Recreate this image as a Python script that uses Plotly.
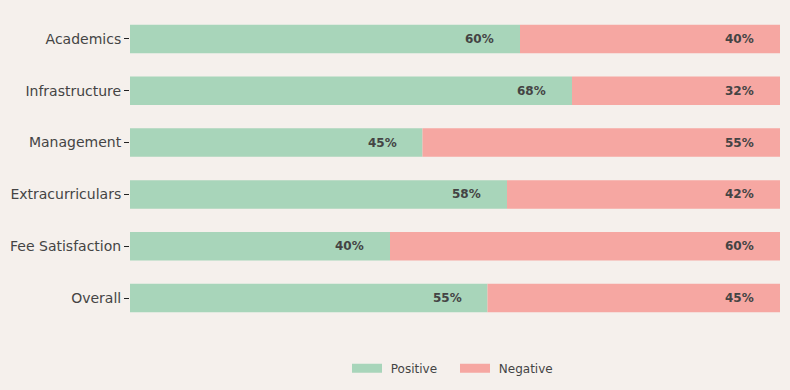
import plotly.graph_objects as go

categories = ["Academics", "Infrastructure", "Management", "Extracurriculars", "Fee Satisfaction", "Overall"]
positive = [60, 68, 45, 58, 40, 55]
negative = [40, 32, 55, 42, 60, 45]

GREEN = "#a8d5ba"
RED = "#f6a7a2"
BG = "#f5f0ec"
TXT = "#444444"

fig = go.Figure()
fig.add_trace(go.Bar(y=categories, x=positive, name="Positive", orientation="h", showlegend=False,
                     marker=dict(color=GREEN, line=dict(width=0)), width=0.55))
fig.add_trace(go.Bar(y=categories, x=negative, name="Negative", orientation="h", showlegend=False,
                     base=positive, marker=dict(color=RED, line=dict(width=0)), width=0.55))
# legend entries (wide rectangular swatches)
fig.add_trace(go.Scatter(x=[None], y=[None], mode="lines", name="\u00a0Positive",
                         line=dict(color=GREEN, width=9)))
fig.add_trace(go.Scatter(x=[None], y=[None], mode="lines", name="\u00a0Negative",
                         line=dict(color=RED, width=9)))

for c, p, n in zip(categories, positive, negative):
    fig.add_annotation(x=p, y=c, text=f"<b>{p}%</b>", showarrow=False, xanchor="right",
                       xshift=-24, font=dict(size=12, color=TXT, family="DejaVu Sans"))
    fig.add_annotation(x=p + n, y=c, text=f"<b>{n}%</b>", showarrow=False, xanchor="right",
                       xshift=-24, font=dict(size=12, color=TXT, family="DejaVu Sans"))

fig.update_layout(
    width=790, height=390,
    margin=dict(l=130, r=10, t=13, b=66, autoexpand=False),
    paper_bgcolor=BG, plot_bgcolor=BG,
    barmode="overlay",
    font=dict(family="DejaVu Sans", color=TXT),
    showlegend=True,
    legend=dict(orientation="h", x=0.5, xanchor="center", yref="container", y=0.056,
                yanchor="middle",
                font=dict(size=12, color=TXT), bgcolor="rgba(0,0,0,0)",
                entrywidth=63, itemwidth=30),
    xaxis=dict(range=[0, 100], visible=False, showgrid=False, zeroline=False),
    yaxis=dict(autorange="reversed", showgrid=False, zeroline=False, ticks="outside",
               ticklen=5, tickcolor="#222222", tickfont=dict(size=14, color=TXT),
               showline=False),
)

fig.write_html("out.html")
